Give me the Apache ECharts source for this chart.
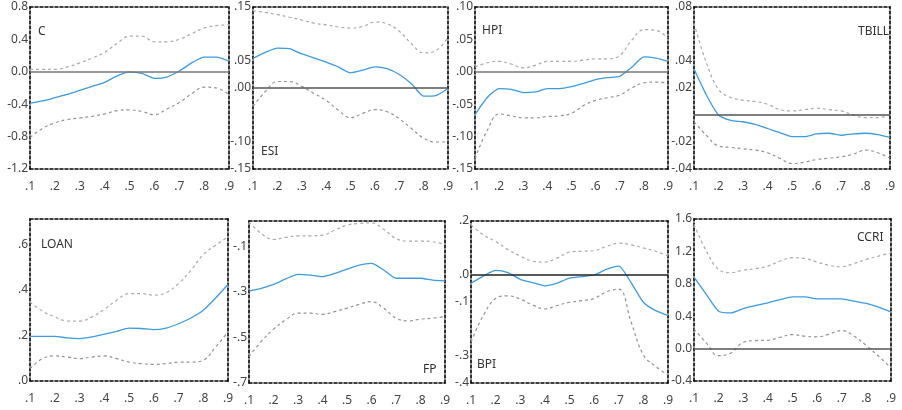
<!DOCTYPE html>
<html>
<head>
<meta charset="utf-8">
<script src="https://cdn.jsdelivr.net/npm/echarts@6/dist/echarts.min.js"></script>
<style>
  html, body { margin: 0; padding: 0; background: #fff; }
  #chart { width: 902px; height: 410px; }
</style>
</head>
<body>
<div id="chart"></div>
<script>
// quantiles on the x axis
let quantiles = [0.1, 0.15, 0.2, 0.25, 0.3, 0.35, 0.4, 0.45, 0.5, 0.55, 0.6, 0.65, 0.7, 0.75, 0.8, 0.85, 0.9];
let xTicks = [0.1, 0.2, 0.3, 0.4, 0.5, 0.6, 0.7, 0.8, 0.9];
let xLabels = [".1", ".2", ".3", ".4", ".5", ".6", ".7", ".8", ".9"];

// C
let cMedian = [-0.39, -0.36, -0.32, -0.28, -0.23, -0.18, -0.13, -0.05, 0.0, -0.02, -0.08, -0.065, 0.01, 0.11, 0.18, 0.18, 0.13];
let cUpper = [0.03, 0.03, 0.03, 0.06, 0.11, 0.17, 0.24, 0.35, 0.44, 0.44, 0.37, 0.37, 0.40, 0.47, 0.54, 0.57, 0.58];
let cLower = [-0.81, -0.70, -0.63, -0.59, -0.57, -0.55, -0.52, -0.48, -0.47, -0.49, -0.53, -0.46, -0.38, -0.27, -0.19, -0.20, -0.28];
let cTicks = [0.8, 0.4, 0, -0.4, -0.8, -1.2];
let cLabels = ["0.8", "0.4", "0.0", "-0.4", "-0.8", "-1.2"];

// ESI
let esiMedian = [0.055, 0.066, 0.074, 0.073, 0.063, 0.056, 0.048, 0.039, 0.028, 0.033, 0.039, 0.036, 0.025, 0.008, -0.015, -0.014, -0.001];
let esiUpper = [0.143, 0.14, 0.136, 0.131, 0.126, 0.12, 0.117, 0.113, 0.111, 0.114, 0.122, 0.119, 0.105, 0.082, 0.065, 0.069, 0.094];
let esiLower = [-0.034, -0.007, 0.012, 0.012, 0.003, -0.010, -0.023, -0.041, -0.055, -0.047, -0.040, -0.044, -0.057, -0.075, -0.093, -0.10, -0.10];
let esiTicks = [0.15, 0.05, 0, -0.10, -0.15];
let esiLabels = [".15", ".05", ".00", "-.10", "-.15"];

// HPI
let hpiMedian = [-0.066, -0.040, -0.026, -0.027, -0.032, -0.031, -0.026, -0.026, -0.023, -0.018, -0.012, -0.009, -0.007, 0.007, 0.023, 0.021, 0.016];
let hpiUpper = [0.007, 0.014, 0.016, 0.012, 0.006, 0.010, 0.016, 0.016, 0.016, 0.018, 0.020, 0.020, 0.025, 0.049, 0.065, 0.064, 0.052];
let hpiLower = [-0.134, -0.091, -0.065, -0.068, -0.071, -0.071, -0.069, -0.068, -0.064, -0.052, -0.044, -0.040, -0.036, -0.025, -0.017, -0.016, -0.017];
let hpiTicks = [0.10, 0.05, 0, -0.05, -0.10, -0.15];
let hpiLabels = [".10", ".05", ".00", "-.05", "-.10", "-.15"];

// TBILL
let tbillMedian = [0.034, 0.015, 0.0, -0.004, -0.005, -0.007, -0.010, -0.013, -0.016, -0.016, -0.014, -0.0135, -0.015, -0.014, -0.0135, -0.0145, -0.0165];
let tbillUpper = [0.068, 0.039, 0.019, 0.013, 0.011, 0.010, 0.008, 0.004, 0.003, 0.004, 0.005, 0.004, 0.003, 0.0, -0.002, -0.002, 0.0];
let tbillLower = [-0.005, -0.015, -0.023, -0.024, -0.025, -0.026, -0.028, -0.032, -0.036, -0.035, -0.033, -0.032, -0.031, -0.029, -0.026, -0.028, -0.032];
let tbillTicks = [0.08, 0.04, 0.02, -0.02, -0.04];
let tbillLabels = [".08", ".04", ".02", "-.02", "-.04"];

// LOAN
let loanMedian = [0.196, 0.196, 0.196, 0.189, 0.186, 0.193, 0.205, 0.218, 0.232, 0.230, 0.225, 0.232, 0.251, 0.276, 0.31, 0.364, 0.423];
let loanUpper = [0.346, 0.306, 0.281, 0.263, 0.262, 0.281, 0.314, 0.354, 0.383, 0.383, 0.376, 0.387, 0.427, 0.485, 0.554, 0.595, 0.632];
let loanLower = [0.054, 0.098, 0.11, 0.105, 0.098, 0.105, 0.11, 0.098, 0.083, 0.076, 0.073, 0.076, 0.083, 0.083, 0.091, 0.149, 0.215];
let loanTicks = [0.6, 0.4, 0.2, 0];
let loanLabels = [".6", ".4", ".2", ".0"];

// FP
let fpMedian = [-0.297, -0.285, -0.268, -0.244, -0.224, -0.227, -0.234, -0.220, -0.201, -0.183, -0.176, -0.205, -0.241, -0.241, -0.241, -0.249, -0.253];
let fpUpper = [0.006, -0.045, -0.071, -0.062, -0.055, -0.055, -0.052, -0.030, -0.008, -0.001, 0.002, -0.026, -0.067, -0.078, -0.078, -0.081, -0.093];
let fpLower = [-0.584, -0.518, -0.464, -0.423, -0.394, -0.394, -0.399, -0.387, -0.372, -0.355, -0.343, -0.372, -0.416, -0.428, -0.420, -0.416, -0.409];
let fpTicks = [-0.1, -0.3, -0.5, -0.7];
let fpLabels = ["-.1", "-.3", "-.5", "-.7"];

// BPI
let bpiMedian = [-0.030, -0.004, 0.017, 0.009, -0.016, -0.028, -0.040, -0.030, -0.012, -0.006, 0.0, 0.021, 0.033, -0.028, -0.101, -0.132, -0.150];
let bpiUpper = [0.185, 0.149, 0.124, 0.094, 0.070, 0.051, 0.048, 0.063, 0.085, 0.088, 0.090, 0.106, 0.118, 0.112, 0.100, 0.088, 0.070];
let bpiLower = [-0.248, -0.150, -0.087, -0.077, -0.089, -0.111, -0.126, -0.113, -0.101, -0.095, -0.087, -0.062, -0.052, -0.174, -0.296, -0.339, -0.370];
let bpiTicks = [0.2, 0, -0.1, -0.3, -0.4];
let bpiLabels = [".2", ".0", "-.1", "-.3", "-.4"];

// CCRI
let ccriMedian = [0.883, 0.668, 0.462, 0.441, 0.495, 0.532, 0.565, 0.606, 0.639, 0.639, 0.614, 0.614, 0.614, 0.586, 0.557, 0.511, 0.450];
let ccriUpper = [1.534, 1.204, 0.977, 0.936, 0.969, 0.986, 1.019, 1.081, 1.122, 1.113, 1.068, 1.027, 1.01, 1.052, 1.101, 1.142, 1.184];
let ccriLower = [0.243, 0.070, -0.087, -0.054, 0.078, 0.099, 0.103, 0.140, 0.173, 0.153, 0.144, 0.181, 0.223, 0.153, 0.037, -0.095, -0.239];
let ccriTicks = [1.6, 1.2, 0.8, 0.4, 0, -0.4];
let ccriLabels = ["1.6", "1.2", "0.8", "0.4", "0.0", "-0.4"];

// panel layout
let panels = [
  { name: "C", med: cMedian, up: cUpper, lo: cLower, ticks: cTicks, labels: cLabels, min: -1.2, max: 0.8, zero: "#777",
    grid: { left: 30, top: 7, width: 199, height: 162 }, title: { left: 38, top: 26 } },
  { name: "ESI", med: esiMedian, up: esiUpper, lo: esiLower, ticks: esiTicks, labels: esiLabels, min: -0.15, max: 0.15, zero: "#555",
    grid: { left: 253, top: 7, width: 195, height: 162 }, title: { left: 261, top: 146 } },
  { name: "HPI", med: hpiMedian, up: hpiUpper, lo: hpiLower, ticks: hpiTicks, labels: hpiLabels, min: -0.15, max: 0.10, zero: "#777",
    grid: { left: 475, top: 7, width: 193, height: 162 }, title: { left: 482, top: 25 } },
  { name: "TBILL", med: tbillMedian, up: tbillUpper, lo: tbillLower, ticks: tbillTicks, labels: tbillLabels, min: -0.04, max: 0.08, zero: "#555",
    grid: { left: 694, top: 7, width: 196, height: 162 }, title: { left: 858, top: 26 } },
  { name: "LOAN", med: loanMedian, up: loanUpper, lo: loanLower, ticks: loanTicks, labels: loanLabels, min: 0, max: 0.71, zero: null,
    grid: { left: 30, top: 219, width: 198, height: 162 }, title: { left: 41, top: 239 } },
  { name: "FP", med: fpMedian, up: fpUpper, lo: fpLower, ticks: fpTicks, labels: fpLabels, min: -0.7, max: 0.01, zero: null,
    grid: { left: 249, top: 221, width: 196, height: 162 }, title: { left: 423, top: 364 } },
  { name: "BPI", med: bpiMedian, up: bpiUpper, lo: bpiLower, ticks: bpiTicks, labels: bpiLabels, min: -0.4, max: 0.2, zero: "#222",
    grid: { left: 471, top: 221, width: 197, height: 162 }, title: { left: 477, top: 359 } },
  { name: "CCRI", med: ccriMedian, up: ccriUpper, lo: ccriLower, ticks: ccriTicks, labels: ccriLabels, min: -0.4, max: 1.6, zero: "#555",
    grid: { left: 694, top: 219, width: 197, height: 162 }, title: { left: 857, top: 232 } }
];

let font = "Noto Sans";
let borderLine = { show: true, onZero: false, lineStyle: { color: "#000", width: 1.6, type: [3, 2] } };

function pickLabel(ticks, labels) {
  return function (v) {
    for (let i = 0; i < ticks.length; i++) {
      if (Math.abs(ticks[i] - v) < 1e-9) return labels[i];
    }
    return "";
  };
}

function pairs(vals) {
  return quantiles.map(function (q, i) { return [q, vals[i]]; });
}

let grids = [], xAxes = [], yAxes = [], titles = [], series = [];

panels.forEach(function (p, i) {
  grids.push(p.grid);
  titles.push({
    text: p.name, left: p.title.left, top: p.title.top, padding: 0,
    textStyle: { fontFamily: font, fontSize: 12, fontWeight: "normal", color: "#333" }
  });
  // bottom axis with labels
  xAxes.push({
    type: "value", gridIndex: i, min: 0.1, max: 0.9, position: "bottom",
    axisLine: borderLine, axisTick: { show: false }, splitLine: { show: false },
    axisLabel: { customValues: xTicks, formatter: pickLabel(xTicks, xLabels), margin: 12,
      fontFamily: font, fontSize: 12, color: "#444" }
  });
  // top axis only for the dotted frame
  xAxes.push({
    type: "value", gridIndex: i, min: 0.1, max: 0.9, position: "top",
    axisLine: borderLine, axisTick: { show: false }, splitLine: { show: false }, axisLabel: { show: false }
  });
  yAxes.push({
    type: "value", gridIndex: i, min: p.min, max: p.max, position: "left",
    axisLine: borderLine, axisTick: { show: false }, splitLine: { show: false },
    axisLabel: { customValues: p.ticks, formatter: pickLabel(p.ticks, p.labels), margin: 2,
      fontFamily: font, fontSize: 12, color: "#444" }
  });
  yAxes.push({
    type: "value", gridIndex: i, min: p.min, max: p.max, position: "right",
    axisLine: borderLine, axisTick: { show: false }, splitLine: { show: false }, axisLabel: { show: false }
  });

  let ax = { xAxisIndex: 2 * i, yAxisIndex: 2 * i };
  series.push(Object.assign({
    type: "line", data: pairs(p.up), showSymbol: false, smooth: 0.4,
    lineStyle: { color: "#aaa", width: 1.2, type: [3, 3] }
  }, ax));
  series.push(Object.assign({
    type: "line", data: pairs(p.lo), showSymbol: false, smooth: 0.4,
    lineStyle: { color: "#939393", width: 1.2, type: [3, 3] }
  }, ax));
  let med = Object.assign({
    type: "line", data: pairs(p.med), showSymbol: false, smooth: 0.2, z: 3,
    lineStyle: { color: "#3d9be0", width: 1.3 }
  }, ax);
  if (p.zero) {
    med.markLine = {
      silent: true, symbol: "none", animation: false, label: { show: false },
      lineStyle: { color: p.zero, width: 1.5, type: "solid" },
      data: [{ yAxis: 0 }]
    };
  }
  series.push(med);
});

let chart = echarts.init(document.getElementById("chart"), null, { width: 902, height: 410 });
chart.setOption({
  animation: false,
  backgroundColor: "#fff",
  title: titles,
  grid: grids,
  xAxis: xAxes,
  yAxis: yAxes,
  series: series
});
</script>
</body>
</html>
